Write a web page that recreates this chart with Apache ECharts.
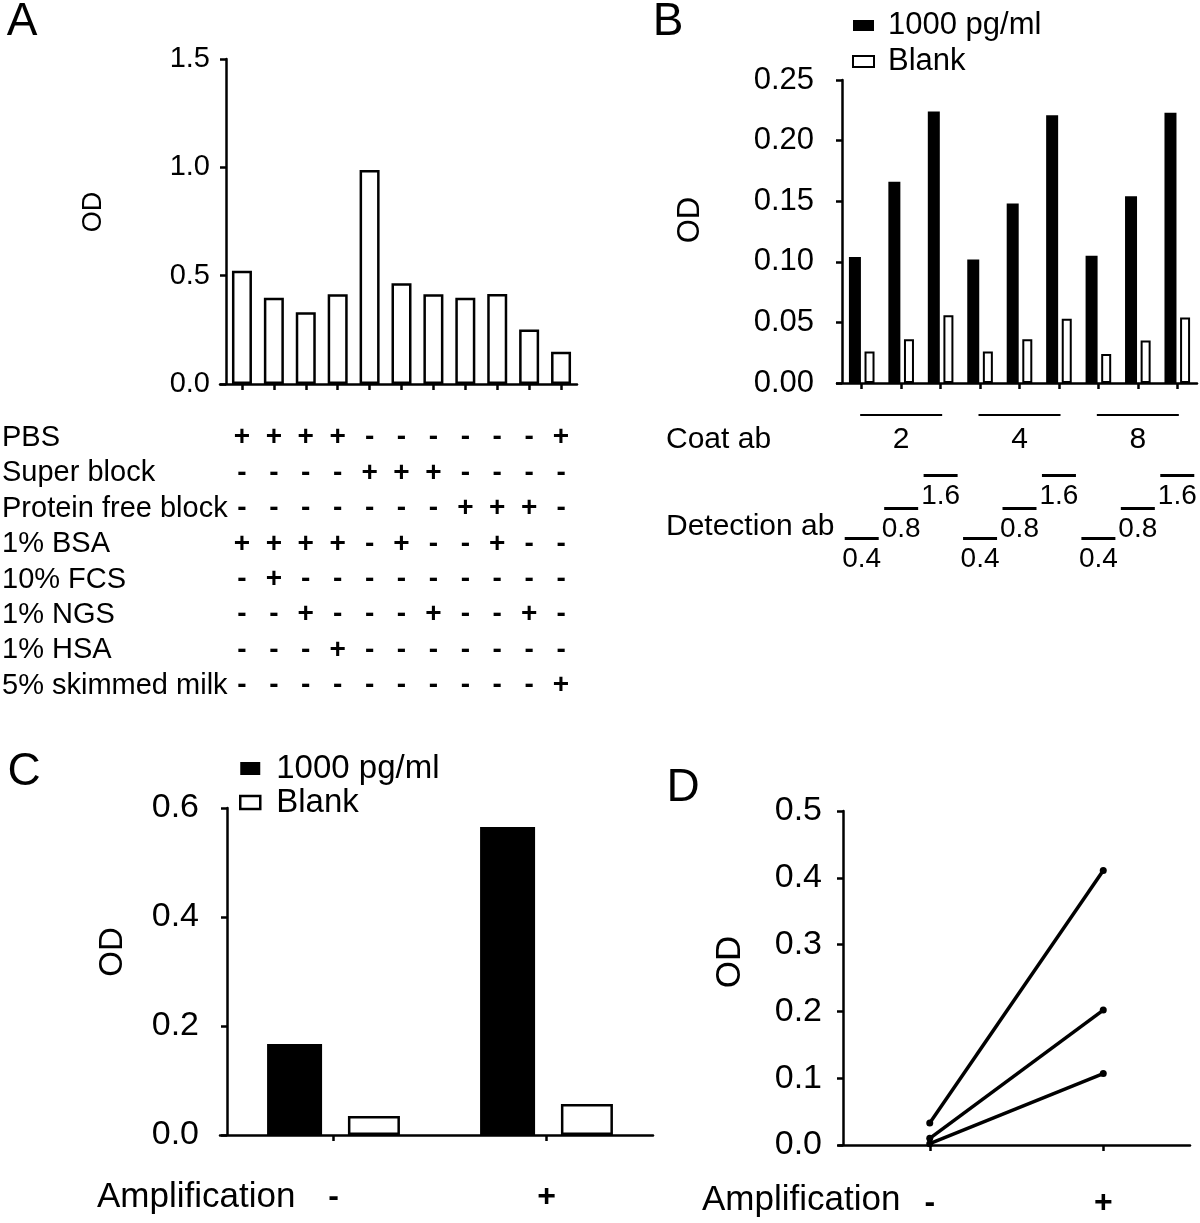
<!DOCTYPE html>
<html><head><meta charset="utf-8">
<script src="https://cdn.jsdelivr.net/npm/echarts@6/dist/echarts.min.js"></script>
<style>html,body{margin:0;padding:0;background:#fff}#c{width:1200px;height:1223px}</style>
</head><body><div id="c"></div>
<script>
const FONT = '"Liberation Sans", Arial, sans-serif';

// ---------- Panel A ----------
const aCategories = ['1','2','3','4','5','6','7','8','9','10','11'];
const aValues = [0.523, 0.398, 0.331, 0.414, 0.988, 0.465, 0.414, 0.398, 0.415, 0.252, 0.149];
const aRowNames = ['PBS','Super block','Protein free block','1% BSA','10% FCS','1% NGS','1% HSA','5% skimmed milk'];
const aRowPBS      = ['+','+','+','+','-','-','-','-','-','-','+'];
const aRowSuper    = ['-','-','-','-','+','+','+','-','-','-','-'];
const aRowProtFree = ['-','-','-','-','-','-','-','+','+','+','-'];
const aRowBSA      = ['+','+','+','+','-','+','-','-','+','-','-'];
const aRowFCS      = ['-','+','-','-','-','-','-','-','-','-','-'];
const aRowNGS      = ['-','-','+','-','-','-','+','-','-','+','-'];
const aRowHSA      = ['-','-','-','+','-','-','-','-','-','-','-'];
const aRowMilk     = ['-','-','-','-','-','-','-','-','-','-','+'];
const aRows = [aRowPBS, aRowSuper, aRowProtFree, aRowBSA, aRowFCS, aRowNGS, aRowHSA, aRowMilk];

// ---------- Panel B ----------
const bCoat = ['2','4','8'];
const bDetection = ['0.4','0.8','1.6'];
const bCategories = [];
bCoat.forEach(c => bDetection.forEach(d => bCategories.push(c + '/' + d)));
const bHigh  = [0.104, 0.166, 0.224, 0.102, 0.148, 0.221, 0.105, 0.154, 0.223];
const bBlank = [0.026, 0.036, 0.056, 0.026, 0.036, 0.053, 0.024, 0.035, 0.054];

// ---------- Panel C ----------
const cCategories = ['-','+'];
const cHigh  = [0.167, 0.565];
const cBlank = [0.035, 0.057];

// ---------- Panel D ----------
const dCategories = ['-','+'];
const dLine1 = [0.033, 0.411];
const dLine2 = [0.010, 0.202];
const dLine3 = [0.002, 0.107];

const seriesNames = ['1000 pg/ml', 'Blank'];

const chart = echarts.init(document.getElementById('c'), null, {renderer: 'canvas'});

const black = '#000';
function yAx(grid, min, max, interval, dec, fs, margin) {
  return {
    type: 'value', gridIndex: grid, min: min, max: max, interval: interval,
    axisLine: {show: true, lineStyle: {color: black, width: 2.5}},
    axisTick: {show: true, length: 6, lineStyle: {color: black, width: 2.5}},
    splitLine: {show: false},
    axisLabel: {show: true, color: black, fontSize: fs, fontFamily: FONT, margin: margin,
      formatter: v => v.toFixed(dec)}
  };
}
function lineGridAxes(grid) {
  return {
    x: {type: 'value', gridIndex: grid, min: 0, max: 1, axisLine: {show: true, onZero: false, lineStyle: {color: black, width: 2.5}},
        axisTick: {show: false}, axisLabel: {show: false}, splitLine: {show: false}},
    y: {type: 'value', gridIndex: grid, show: false, min: 0, max: 1, splitLine: {show: false}}
  };
}
function detAxis(k, margin) {
  return {
    type: 'category', gridIndex: 1, data: bCategories, position: 'bottom',
    axisLine: {show: false}, axisTick: {show: false}, splitLine: {show: false},
    axisLabel: {show: true, interval: 0, margin: margin, color: black, align: 'center',
      formatter: (v, i) => (i % 3 === k) ? '{l|}\n{t|' + bDetection[k] + '}' : '',
      rich: {
        l: {width: 34, height: 3, lineHeight: 3, backgroundColor: black},
        t: {fontSize: 28, fontFamily: FONT, color: black, lineHeight: 38}
      }}
  };
}

const lgA = lineGridAxes(4), lgB = lineGridAxes(5), lgC = lineGridAxes(6), lgD = lineGridAxes(7);

const option = {
  animation: false,
  backgroundColor: '#fff',
  textStyle: {fontFamily: FONT},
  grid: [
    {left: 226, width: 351, top: 59, height: 325, outerBoundsMode: 'none', containLabel: false},
    {left: 842, width: 355, top: 80, height: 303, outerBoundsMode: 'none', containLabel: false},
    {left: 227, width: 426, top: 808, height: 327, outerBoundsMode: 'none', containLabel: false},
    {left: 843, width: 347, top: 811, height: 334, outerBoundsMode: 'none', containLabel: false},
    {left: 220, width: 357, top: 374, height: 10, outerBoundsMode: 'none', containLabel: false},
    {left: 837, width: 360, top: 373, height: 10, outerBoundsMode: 'none', containLabel: false},
    {left: 220, width: 433, top: 1125, height: 10, outerBoundsMode: 'none', containLabel: false},
    {left: 839, width: 351, top: 1135, height: 10, outerBoundsMode: 'none', containLabel: false}
  ],
  xAxis: [
    {type: 'category', gridIndex: 0, data: aCategories,
     axisLine: {show: false}, axisTick: {show: true, alignWithLabel: true, length: 6, lineStyle: {color: black, width: 2.5}},
     axisLabel: {show: true, interval: 0, margin: 36, color: black, fontSize: 28, fontWeight: 'bold', fontFamily: FONT, lineHeight: 35.4,
       formatter: (v, i) => aRows.map(r => r[i]).join('\n')}},
    {type: 'category', gridIndex: 1, data: bCategories,
     axisLine: {show: false}, axisTick: {show: true, alignWithLabel: true, length: 6, lineStyle: {color: black, width: 2.5}},
     axisLabel: {show: false}},
    {type: 'category', gridIndex: 1, data: bCategories, position: 'bottom',
     axisLine: {show: false}, axisTick: {show: false},
     axisLabel: {show: true, interval: 0, margin: 31, color: black, align: 'center',
       formatter: (v, i) => (i % 3 === 1) ? '{l|}\n{t|' + bCoat[Math.floor(i / 3)] + '}' : '',
       rich: {
         l: {width: 82, height: 2, lineHeight: 2, backgroundColor: black},
         t: {fontSize: 30, fontFamily: FONT, color: black, lineHeight: 48}
       }}},
    detAxis(0, 154),
    detAxis(1, 124),
    detAxis(2, 91),
    {type: 'category', gridIndex: 2, data: cCategories,
     axisLine: {show: false}, axisTick: {show: true, alignWithLabel: true, length: 6, lineStyle: {color: black, width: 2.5}},
     axisLabel: {show: true, interval: 0, margin: 46, color: black, fontSize: 32, fontWeight: 'bold', fontFamily: FONT}},
    {type: 'category', gridIndex: 3, data: dCategories,
     axisLine: {show: false}, axisTick: {show: true, alignWithLabel: true, length: 6, lineStyle: {color: black, width: 2.5}},
     axisLabel: {show: true, interval: 0, margin: 42, color: black, fontSize: 32, fontWeight: 'bold', fontFamily: FONT}},
    lgA.x, lgB.x, lgC.x, lgD.x
  ],
  yAxis: [
    yAx(0, 0, 1.5, 0.5, 1, 29, 16),
    yAx(1, 0, 0.25, 0.05, 2, 31, 28),
    yAx(2, 0, 0.6, 0.2, 1, 34, 28),
    yAx(3, 0, 0.5, 0.1, 1, 34, 21),
    lgA.y, lgB.y, lgC.y, lgD.y
  ],
  legend: [
    {orient: 'vertical', left: 847, top: 5, itemWidth: 21, itemHeight: 11, itemGap: 5, selectedMode: false,
     textStyle: {fontSize: 31, fontFamily: FONT, color: black, padding: [0, 0, 0, 9]},
     data: [
       {name: seriesNames[0], icon: 'rect', itemStyle: {color: black, borderWidth: 0}},
       {name: seriesNames[1], icon: 'rect', itemStyle: {color: '#fff', borderColor: black, borderWidth: 2}}
     ]},
    {orient: 'vertical', left: 234, top: 747, itemWidth: 20, itemHeight: 13, itemGap: 1, selectedMode: false,
     textStyle: {fontSize: 33, fontFamily: FONT, color: black, padding: [0, 0, 0, 11]},
     data: [
       {name: seriesNames[0], icon: 'rect', itemStyle: {color: black, borderWidth: 0}},
       {name: seriesNames[1], icon: 'rect', itemStyle: {color: '#fff', borderColor: black, borderWidth: 2.5}}
     ]}
  ],
  series: [
    {type: 'bar', name: 'A', xAxisIndex: 0, yAxisIndex: 0, data: aValues, barWidth: 20,
     itemStyle: {color: '#fff', borderColor: black, borderWidth: 2.5}},
    {type: 'bar', name: seriesNames[0], xAxisIndex: 1, yAxisIndex: 1, data: bHigh, barWidth: 12, barGap: '30%',
     itemStyle: {color: black, borderWidth: 0}},
    {type: 'bar', name: seriesNames[1], xAxisIndex: 1, yAxisIndex: 1, data: bBlank, barWidth: 10, barGap: '30%',
     itemStyle: {color: '#fff', borderColor: black, borderWidth: 2}},
    {type: 'bar', name: seriesNames[0], xAxisIndex: 6, yAxisIndex: 2, data: cHigh, barWidth: 55, barGap: '47%',
     itemStyle: {color: black, borderWidth: 0}},
    {type: 'bar', name: seriesNames[1], xAxisIndex: 6, yAxisIndex: 2, data: cBlank, barWidth: 52, barGap: '47%',
     itemStyle: {color: '#fff', borderColor: black, borderWidth: 2.5}},
    {type: 'line', name: 'D1', xAxisIndex: 7, yAxisIndex: 3, data: dLine1, symbol: 'circle', symbolSize: 7,
     itemStyle: {color: black}, lineStyle: {color: black, width: 3.5}},
    {type: 'line', name: 'D2', xAxisIndex: 7, yAxisIndex: 3, data: dLine2, symbol: 'circle', symbolSize: 7,
     itemStyle: {color: black}, lineStyle: {color: black, width: 3.5}},
    {type: 'line', name: 'D3', xAxisIndex: 7, yAxisIndex: 3, data: dLine3, symbol: 'circle', symbolSize: 7,
     itemStyle: {color: black}, lineStyle: {color: black, width: 3.5}}
  ],
  graphic: [
    {type: 'text', x: 22, y: 22, style: {text: 'A', fontSize: 46, fontFamily: FONT, fill: black, align: 'center', verticalAlign: 'middle'}},
    {type: 'text', x: 668, y: 22, style: {text: 'B', fontSize: 46, fontFamily: FONT, fill: black, align: 'center', verticalAlign: 'middle'}},
    {type: 'text', x: 24, y: 772, style: {text: 'C', fontSize: 46, fontFamily: FONT, fill: black, align: 'center', verticalAlign: 'middle'}},
    {type: 'text', x: 683, y: 788, style: {text: 'D', fontSize: 46, fontFamily: FONT, fill: black, align: 'center', verticalAlign: 'middle'}},
    {type: 'text', x: 94, y: 212, rotation: Math.PI / 2, style: {text: 'OD', fontSize: 27, fontFamily: FONT, fill: black, align: 'center', verticalAlign: 'middle'}},
    {type: 'text', x: 690, y: 220, rotation: Math.PI / 2, style: {text: 'OD', fontSize: 31, fontFamily: FONT, fill: black, align: 'center', verticalAlign: 'middle'}},
    {type: 'text', x: 113, y: 952, rotation: Math.PI / 2, style: {text: 'OD', fontSize: 33, fontFamily: FONT, fill: black, align: 'center', verticalAlign: 'middle'}},
    {type: 'text', x: 730, y: 962, rotation: Math.PI / 2, style: {text: 'OD', fontSize: 35, fontFamily: FONT, fill: black, align: 'center', verticalAlign: 'middle'}},
    {type: 'text', x: 2, y: 420.3, style: {text: aRowNames.join('\n'), fontSize: 29, lineHeight: 35.4, fontFamily: FONT, fill: black, align: 'left', verticalAlign: 'top'}},
    {type: 'text', x: 666, y: 440, style: {text: 'Coat ab', fontSize: 30, fontFamily: FONT, fill: black, align: 'left', verticalAlign: 'middle'}},
    {type: 'text', x: 666, y: 527, style: {text: 'Detection ab', fontSize: 30, fontFamily: FONT, fill: black, align: 'left', verticalAlign: 'middle'}},
    {type: 'text', x: 97, y: 1197, style: {text: 'Amplification', fontSize: 35, fontFamily: FONT, fill: black, align: 'left', verticalAlign: 'middle'}},
    {type: 'text', x: 702, y: 1200, style: {text: 'Amplification', fontSize: 35, fontFamily: FONT, fill: black, align: 'left', verticalAlign: 'middle'}}
  ]
};
chart.setOption(option);
</script>
</body></html>
